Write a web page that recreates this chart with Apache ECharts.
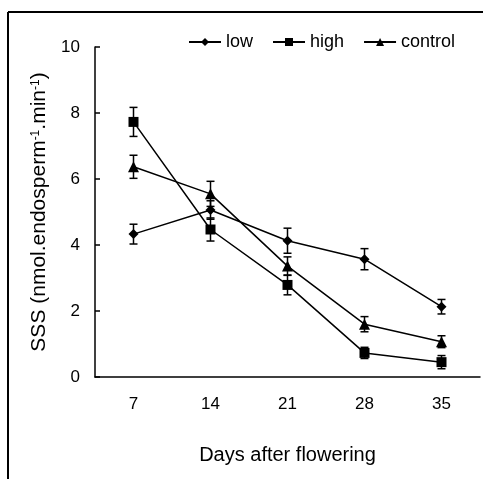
<!DOCTYPE html>
<html>
<head>
<meta charset="utf-8">
<script src="https://cdn.jsdelivr.net/npm/echarts@6/dist/echarts.min.js"></script>
<style>html,body{margin:0;padding:0;background:#fff}#c{width:483px;height:479px}</style>
</head>
<body>
<div id="c"></div>
<script>
const days = ['7', '14', '21', '28', '35'];
const low = [4.33, 5.06, 4.13, 3.57, 2.13];
const lowErr = [0.3, 0.28, 0.38, 0.32, 0.22];
const high = [7.73, 4.47, 2.79, 0.73, 0.45];
const highErr = [0.44, 0.35, 0.3, 0.17, 0.2];
const control = [6.37, 5.55, 3.36, 1.6, 1.07];
const controlErr = [0.35, 0.38, 0.28, 0.23, 0.18];
const yTicks = [0, 2, 4, 6, 8, 10];

const FONT = '"Liberation Sans", Arial, sans-serif';
const chart = echarts.init(document.getElementById('c'), null, {renderer: 'canvas'});

function errSeries(vals, errs, name) {
  return {
    type: 'custom',
    name: name + '_err',
    z: 1,
    silent: true,
    data: vals.map((v, i) => [i, v - errs[i], v + errs[i]]),
    renderItem: function (params, api) {
      const lo = api.coord([api.value(0), api.value(1)]);
      const hi = api.coord([api.value(0), api.value(2)]);
      const w = 4;
      const st = {stroke: '#000', lineWidth: 1.5};
      return {
        type: 'group',
        children: [
          {type: 'line', shape: {x1: lo[0], y1: lo[1], x2: hi[0], y2: hi[1]}, style: st},
          {type: 'line', shape: {x1: lo[0] - w, y1: lo[1], x2: lo[0] + w, y2: lo[1]}, style: st},
          {type: 'line', shape: {x1: hi[0] - w, y1: hi[1], x2: hi[0] + w, y2: hi[1]}, style: st}
        ]
      };
    }
  };
}

function lineSeries(name, vals, symbol, size) {
  return {
    type: 'line',
    name: name,
    data: vals,
    symbol: symbol,
    symbolSize: size,
    z: 3,
    lineStyle: {color: '#000', width: 1.5},
    itemStyle: {color: '#000'},
    showAllSymbol: true
  };
}

chart.setOption({
  animation: false,
  textStyle: {fontFamily: FONT},
  graphic: [
    {type: 'line', shape: {x1: 8, y1: 12, x2: 483, y2: 12}, style: {stroke: '#000', lineWidth: 2}},
    {type: 'line', shape: {x1: 8, y1: 12, x2: 8, y2: 479}, style: {stroke: '#000', lineWidth: 2}}
  ],
  legend: {
    data: ['low', 'high', 'control'],
    left: 183,
    top: 28,
    itemWidth: 32,
    itemHeight: 10,
    itemGap: 19,
    textStyle: {fontSize: 18, color: '#000', fontFamily: FONT}
  },
  grid: {left: 95, top: 47, right: 3, bottom: 102},
  xAxis: {
    type: 'category',
    data: days,
    boundaryGap: true,
    name: 'Days after flowering',
    nameLocation: 'middle',
    nameGap: 68,
    nameTextStyle: {fontSize: 20, color: '#000', fontFamily: FONT},
    axisLine: {lineStyle: {color: '#000', width: 1.5}},
    axisTick: {inside: true, length: 5, lineStyle: {color: '#000', width: 1.5}},
    axisLabel: {fontSize: 17, color: '#000', margin: 19, fontFamily: FONT}
  },
  yAxis: {
    type: 'value',
    min: yTicks[0],
    max: yTicks[yTicks.length - 1],
    interval: 2,
    name: '{n|SSS (nmol.endosperm}{s|-1}{n|.min}{s|-1}{n|)}',
    nameLocation: 'middle',
    nameGap: 37,
    nameTextStyle: {
      color: '#000',
      fontFamily: FONT,
      rich: {
        n: {fontSize: 21, color: '#000', fontFamily: FONT},
        s: {fontSize: 12, color: '#000', fontFamily: FONT, verticalAlign: 'top', padding: [0, 0, 9, 0]}
      }
    },
    splitLine: {show: false},
    axisLine: {show: true, lineStyle: {color: '#000', width: 1.5}},
    axisTick: {show: true, inside: true, length: 5, lineStyle: {color: '#000', width: 1.5}},
    axisLabel: {fontSize: 17, color: '#000', margin: 15, fontFamily: FONT}
  },
  series: [
    lineSeries('low', low, 'diamond', 10),
    lineSeries('high', high, 'rect', 10),
    lineSeries('control', control, 'triangle', 11),
    errSeries(low, lowErr, 'low'),
    errSeries(high, highErr, 'high'),
    errSeries(control, controlErr, 'control')
  ]
});
</script>
</body>
</html>
